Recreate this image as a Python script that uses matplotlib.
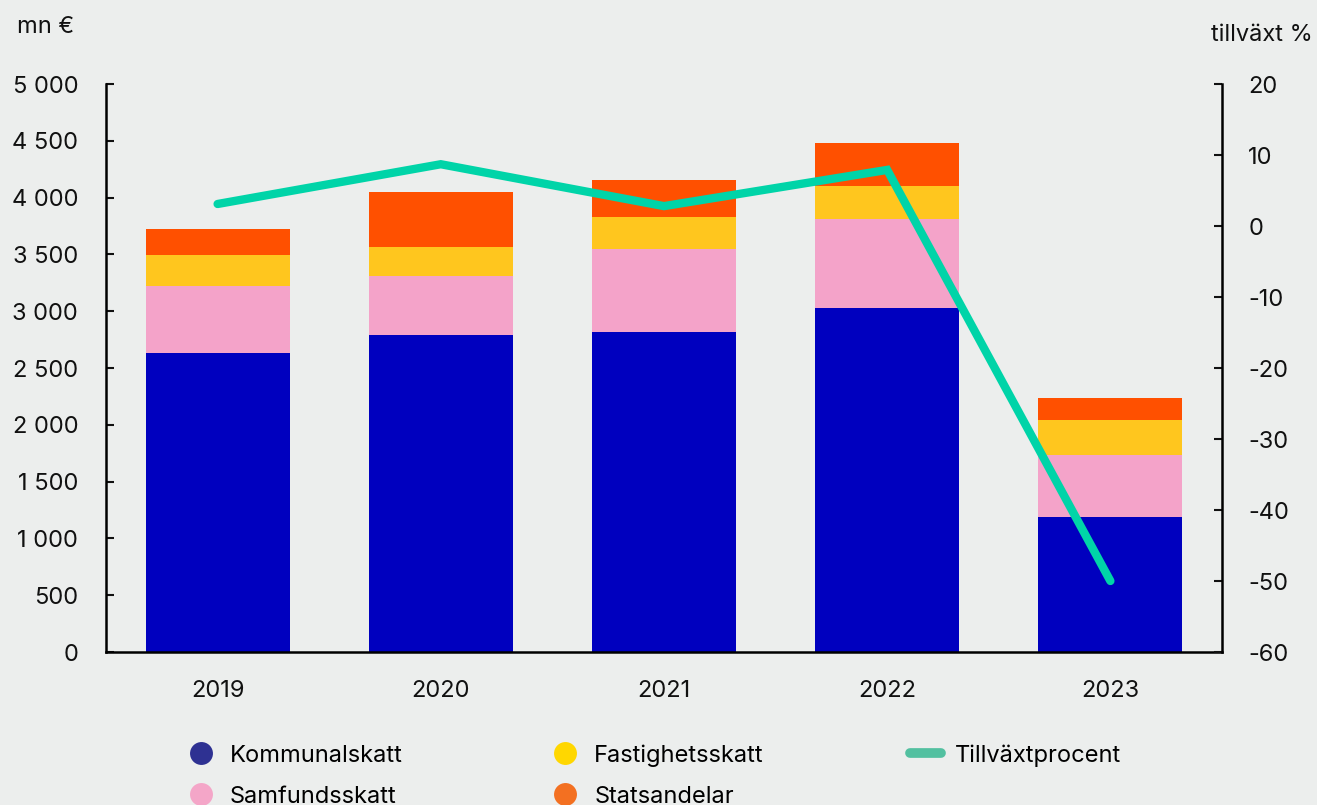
import matplotlib
matplotlib.use("Agg")
import matplotlib.pyplot as plt
from matplotlib.lines import Line2D
import numpy as np

plt.rcParams['font.family'] = ['Inter', 'DejaVu Sans']
plt.rcParams['axes.unicode_minus'] = False

# data (mn €)
years = ['2019', '2020', '2021', '2022', '2023']
kommunalskatt = [2632, 2790, 2817, 3028, 1188]
samfundsskatt = [590, 520, 731, 784, 546]
fastighetsskatt = [273, 255, 281, 290, 308]
statsandelar = [229, 484, 326, 379, 194]
tillvaxt = [3.1, 8.7, 2.8, 7.9, -50.0]

bar_colors = ['#0000bf', '#f4a3c9', '#ffc61e', '#ff5000']
legend_colors = ['#2e3192', '#f4a6c8', '#ffd700', '#f37021']
line_color = '#00d4a8'
line_legend_color = '#52c0a0'
bg = '#eceeed'

fig = plt.figure(figsize=(13.17, 8.05), dpi=100, facecolor=bg)
ax = fig.add_axes([106 / 1317, 1 - 652 / 805, (1222 - 106) / 1317, (652 - 84) / 805])
ax.set_facecolor(bg)

x = np.arange(len(years))
w = 0.645
bottom = np.zeros(len(years))
for vals, c in zip([kommunalskatt, samfundsskatt, fastighetsskatt, statsandelar], bar_colors):
    ax.bar(x, vals, w, bottom=bottom, color=c, edgecolor='none', zorder=2)
    bottom += np.array(vals)

ax.set_xlim(-0.5, 4.5)
ax.set_ylim(0, 5000)
ax.set_yticks(range(0, 5001, 500))
ax.set_yticklabels([f'{v:,}'.replace(',', ' ') for v in range(0, 5001, 500)])
ax.set_xticks(x)
ax.set_xticklabels(years)

ax2 = ax.twinx()
ax2.plot(x, tillvaxt, color=line_color, lw=6, solid_capstyle='round',
         solid_joinstyle='miter', zorder=3)
ax2.set_ylim(-60, 20)
ax2.set_yticks(range(-60, 21, 10))

for a in (ax, ax2):
    for s in a.spines.values():
        s.set_visible(False)
    a.tick_params(labelsize=17, colors='#111111')

ax.spines['left'].set_visible(True)
ax.spines['bottom'].set_visible(True)
ax.spines['left'].set_linewidth(1.8)
ax.spines['bottom'].set_linewidth(1.8)
ax2.spines['right'].set_visible(True)
ax2.spines['right'].set_linewidth(1.8)
ax.tick_params(axis='y', direction='in', length=6, width=1.5, pad=20)
ax.tick_params(axis='x', length=0, pad=20)
ax2.tick_params(axis='y', direction='in', length=6, width=1.5, pad=19)

fig.text(17 / 1317, 1 - 27 / 805, 'mn €', fontsize=17, va='center', ha='left', color='#111111')
fig.text(1313 / 1317, 1 - 35 / 805, 'tillväxt %', fontsize=17, va='center', ha='right', color='#111111')

labels = ['Kommunalskatt', 'Samfundsskatt', 'Fastighetsskatt', 'Statsandelar']
handles = [Line2D([], [], ls='none', marker='o', markersize=16.5, markerfacecolor=c,
                  markeredgecolor='none', label=l) for c, l in zip(legend_colors, labels)]
handles.append(Line2D([], [], color=line_legend_color, lw=7, solid_capstyle='round',
                      label='Tillväxtprocent'))
fig.legend(handles=handles, ncol=3, loc='upper left', bbox_to_anchor=(164 / 1317, 1 - 723 / 805),
           frameon=False, fontsize=17, handlelength=1.3, handletextpad=0.6,
           columnspacing=6.2, labelspacing=0.8)

fig.savefig('out.png', dpi=100, facecolor=bg)
